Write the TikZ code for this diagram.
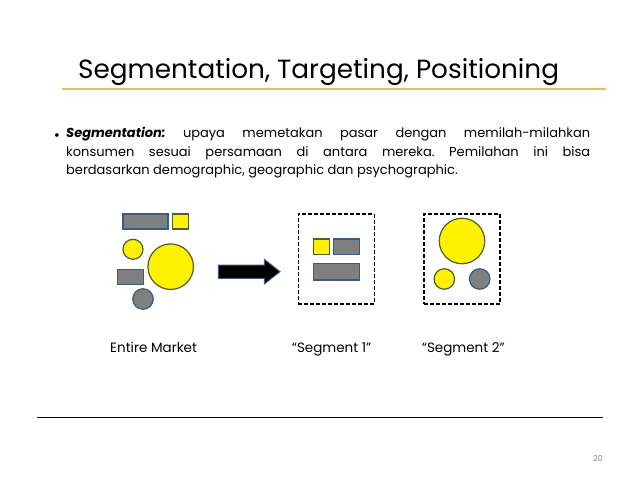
\documentclass[tikz,border=0pt]{standalone}
\usepackage{fontspec}
\setmainfont{Poppins}
\usetikzlibrary{positioning}
\definecolor{ylwline}{HTML}{E0C050}
\definecolor{blueedge}{HTML}{3E5A80}
\definecolor{oliveedge}{HTML}{4F5F28}
\definecolor{shapegray}{HTML}{808080}
\tikzset{
  grayrect/.style={draw=blueedge,line width=1.2pt,fill=shapegray,inner sep=0pt},
  yelrect/.style={draw=oliveedge,line width=1.2pt,fill=yellow,inner sep=0pt},
  yelcirc/.style={circle,draw=oliveedge,line width=1.2pt,fill=yellow,inner sep=0pt},
  graycirc/.style={circle,draw=blueedge,line width=1.2pt,fill=shapegray,inner sep=0pt},
  segbox/.style={draw,dash pattern=on 4pt off 2pt,line width=1.5pt,inner sep=0pt,minimum width=76pt,minimum height=90pt},
  caption/.style={font=\fontsize{13.5}{15}\selectfont,anchor=base west,inner sep=0pt}
}
\begin{document}
\begin{tikzpicture}[x=1pt,y=-1pt]
  \useasboundingbox (0,0) rectangle (638,479);
  % title
  \node[anchor=base west,inner sep=0pt,font=\fontsize{26.3}{30}\selectfont] (title) at (78,78) {Segmentation, Targeting, Positioning};
  \draw[ylwline,line width=1.1pt] (62,89) -- (606,89);
  % bullet
  \node[anchor=base,inner sep=0pt,font=\fontsize{15}{19}\selectfont] (dot) at (57,140) {•};
  \node[anchor=north west,inner sep=0pt,text width=524pt,align=justify,font=\fontsize{13}{18.5}\selectfont] (body) at (66,127)
    {\frenchspacing\hyphenpenalty=10000 \textbf{\textit{Segmentation:}} upaya memetakan pasar dengan memilah-milahkan\linebreak
     konsumen sesuai persamaan di antara mereka. Pemilahan ini bisa\linebreak
     berdasarkan demographic, geographic dan psychographic.};
  % entire market
  \node[grayrect,minimum width=45pt,minimum height=15pt] (g1) at (145.5,221.5) {};
  \node[yelrect,minimum width=15.5pt,minimum height=15pt] (y1) at (180.5,221.5) {};
  \node[yelcirc,minimum size=20pt] (c1) at (133,249.3) {};
  \node[yelcirc,minimum size=45.5pt] (c2) at (170.7,266.7) {};
  \node[grayrect,minimum width=26pt,minimum height=15pt] (g2) at (130.3,276.6) {};
  \node[graycirc,minimum size=20.5pt] (c3) at (143,299) {};
  % arrow
  \draw[blueedge,fill=black,line width=1pt] (218.3,265) -- (264.3,265) -- (264.3,259.3) -- (280,271.7)
    -- (264.3,284) -- (264.3,278.3) -- (218.3,278.3) -- cycle;
  % segment 1
  \node[segbox] (s1) at (336.3,259) {};
  \node[yelrect,minimum width=16pt,minimum height=15.3pt] (y2) at (321.3,246.7) {};
  \node[grayrect,minimum width=26pt,minimum height=15.3pt] (g3) at (346.3,246.7) {};
  \node[grayrect,minimum width=46pt,minimum height=16.7pt] (g4) at (336.3,271.7) {};
  % segment 2
  \node[segbox] (s2) at (462,259) {};
  \node[yelcirc,minimum size=45.5pt] (c4) at (462,241) {};
  \node[yelcirc,minimum size=20.5pt] (c5) at (444.3,279) {};
  \node[graycirc,minimum size=20.5pt] (c6) at (479.7,279) {};
  % captions
  \node[caption] (l1) at (110,352) {Entire Market};
  \node[caption] (l2) at (291.7,352) {“Segment 1”};
  \node[caption] (l3) at (421.7,352) {“Segment 2”};
  % footer
  \draw[line width=0.9pt] (37,417) -- (603,417);
  \node[anchor=base east,inner sep=0pt,text=gray,font=\fontsize{8}{10}\selectfont] (pg) at (603,461) {20};
\end{tikzpicture}
\end{document}
